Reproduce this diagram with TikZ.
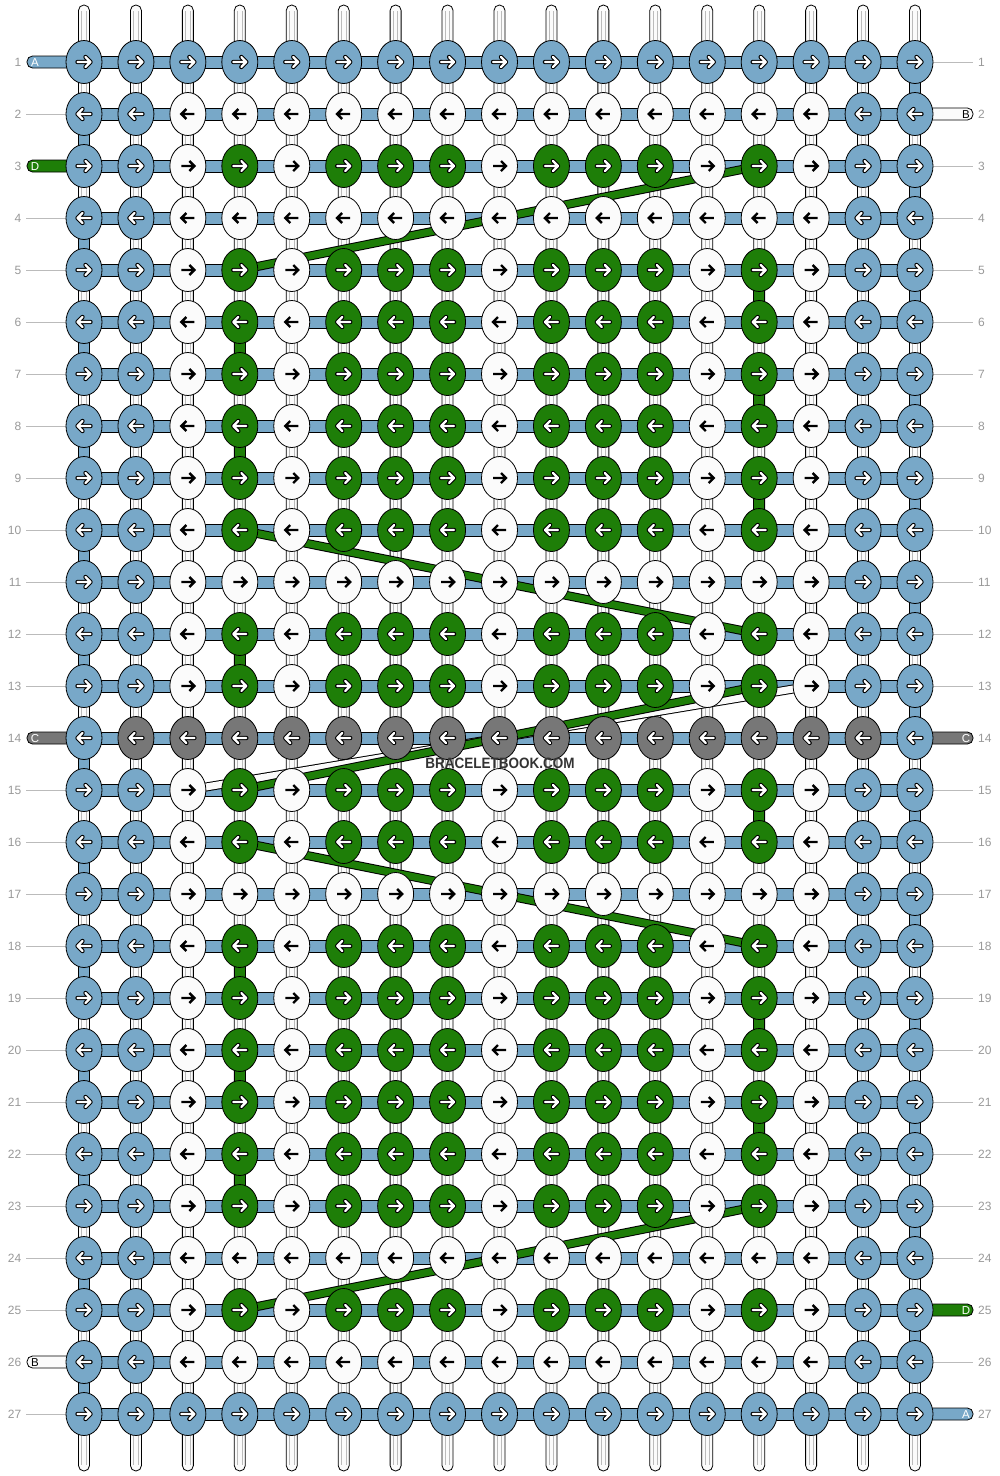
\documentclass[tikz,border=0pt]{standalone}
\usepackage{fontspec}
\setmainfont{Liberation Sans}
\usetikzlibrary{shapes.geometric,calc}
\definecolor{bb}{HTML}{78A8C8}
\definecolor{gg}{HTML}{1E7E08}
\definecolor{cg}{HTML}{777777}
\definecolor{ww}{HTML}{FBFBFB}
\definecolor{lbl}{HTML}{999999}
\definecolor{inl}{HTML}{BBBBBB}
\begin{document}
\begin{tikzpicture}[x=1pt,y=-1pt,
  knot/.style={ellipse, draw=black, line width=0.8pt, minimum width=36pt, minimum height=43pt, inner sep=0pt},
  hbar/.style={draw=black, line width=0.8pt, fill=bb},
  vseg/.style={draw=black, line width=0.8pt},
  bandout/.style={line width=9pt, black},
  num/.style={text=lbl, inner sep=0pt, font=\fontsize{12}{12}\selectfont},
  stubtxt/.style={inner sep=0pt, font=\fontsize{11.5}{11.5}\selectfont},
  lblline/.style={draw=inl, line width=0.8pt}]

\useasboundingbox (0,0) rectangle (1000,1476);
\fill[white] (0,0) rectangle (1000,1476);

% grid positions
\foreach \r in {1,...,27}{
  \foreach \c in {1,...,17}{
    \coordinate (p-\r-\c) at ({84+51.9375*(\c-1)},{62+52*(\r-1)});
  }
}

% vertical strings
\foreach \c in {1,...,17}{
  \pgfmathsetmacro\xx{84+51.9375*(\c-1)}
  \draw[fill=ww, line width=0.8pt, rounded corners=5.4pt] (\xx-5.5,5) rectangle (\xx+5.5,1471);
  \draw[inl, line width=0.7pt] (\xx-2.2,11) -- (\xx-2.2,1465) (\xx+2.2,11) -- (\xx+2.2,1465);
}

% horizontal bars
\foreach \r in {1,...,27}{
  \draw[hbar] ($(p-\r-1)+(0,-6)$) rectangle ($(p-\r-17)+(0,6)$);
}

% left stubs
\foreach \r/\f/\L/\tc in {1/bb/A/white,3/gg/D/white,14/cg/C/white,26/ww/B/black}{
  \draw[fill=\f, line width=0.8pt, rounded corners=5.5pt] ($(p-\r-1)+(-57,-6)$) rectangle ($(p-\r-1)+(0,6)$);
  \node[stubtxt, text=\tc] (ls-\r) at ($(p-\r-1)+(-49,0.5)$) {\L};
}
% right stubs
\foreach \r/\f/\L/\tc in {2/ww/B/black,14/cg/C/white,25/gg/D/white,27/bb/A/white}{
  \draw[fill=\f, line width=0.8pt, rounded corners=5.5pt] ($(p-\r-17)+(0,-6)$) rectangle ($(p-\r-17)+(58,6)$);
  \node[stubtxt, text=\tc] (rs-\r) at ($(p-\r-17)+(51,0.5)$) {\L};
}
% label lines
\foreach \r in {2,4,5,6,7,8,9,10,11,12,13,15,16,17,18,19,20,21,22,23,24,25,27}{
  \draw[lblline] ($(p-\r-1)+(-58,0)$) -- (p-\r-1);
}
\foreach \r in {1,3,4,5,6,7,8,9,10,11,12,13,15,16,17,18,19,20,21,22,23,24,26}{
  \draw[lblline] (p-\r-17) -- ($(p-\r-17)+(58,0)$);
}
% row numbers
\foreach \r in {1,...,27}{
  \node[num, anchor=east] (ln-\r) at ($(p-\r-1)+(-62.5,0.5)$) {\r};
  \node[num, anchor=west] (rn-\r) at ($(p-\r-17)+(63,0.5)$) {\r};
}

% coloured vertical segments
\foreach \c/\f/\rs in {1/bb/{2,4,...,26}, 17/bb/{1,3,...,25}, 4/gg/{6,8,12,18,20,22}, 14/gg/{5,7,9,15,19,21}}{
  \foreach \r in \rs {
    \pgfmathtruncatemacro\rn{\r+1}
    \draw[vseg, fill=\f] ($(p-\r-\c)+(-5.5,0)$) rectangle ($(p-\rn-\c)+(5.5,0)$);
  }
}

% travelling threads
\draw[bandout] (p-13-15) -- (p-15-3);
\draw[line width=7pt, ww] (p-13-15) -- (p-15-3);
\foreach \a/\b in {p-3-14/p-5-4, p-10-4/p-12-14, p-13-14/p-15-4, p-16-4/p-18-14, p-23-14/p-25-4}{
  \draw[bandout] (\a) -- (\b);
  \draw[line width=7pt, gg] (\a) -- (\b);
}

% knots
\foreach \r in {1,...,27}{
  \pgfmathtruncatemacro\rt{{0,1,2,1,2,2,2,2,2,2,1,2,2,3,2,2,1,2,2,2,2,2,2,1,2,1,0}[\r-1]}
  \pgfmathtruncatemacro\dr{mod(\r,2)==1 ? 1 : -1}
  \foreach \c in {1,...,17}{
    \ifcase\rt
      \def\kc{0}%
    \or \pgfmathtruncatemacro\kc{{0,0,1,1,1,1,1,1,1,1,1,1,1,1,1,0,0}[\c-1]}%
    \or \pgfmathtruncatemacro\kc{{0,0,1,2,1,2,2,2,1,2,2,2,1,2,1,0,0}[\c-1]}%
    \or \pgfmathtruncatemacro\kc{{0,3,3,3,3,3,3,3,3,3,3,3,3,3,3,3,0}[\c-1]}%
    \fi
    \ifcase\kc \def\fc{bb}\or\def\fc{ww}\or\def\fc{gg}\or\def\fc{cg}\fi
    \node[knot, fill=\fc] (k-\r-\c) at (p-\r-\c) {};
    \ifnum\kc=1
      \draw[black, line width=2.4pt, shift={(k-\r-\c.center)}, xscale=\dr] (-6.5,0) -- (6.5,0) (1.5,-5) -- (6.5,0) -- (1.5,5);
    \else
      \draw[black, line width=4.4pt, line cap=round, line join=round, shift={(k-\r-\c.center)}, xscale=\dr] (-6.5,0) -- (6.5,0) (1.5,-5) -- (6.5,0) -- (1.5,5);
      \draw[white, line width=2.3pt, line cap=round, line join=round, shift={(k-\r-\c.center)}, xscale=\dr] (-6.5,0) -- (6.5,0) (1.5,-5) -- (6.5,0) -- (1.5,5);
    \fi
  }
}

% watermark
\node[font=\bfseries\fontsize{15}{15}\selectfont, text=black!80, xscale=0.9, inner sep=0pt] (wm) at (500,763.5) {BRACELETBOOK.COM};
\end{tikzpicture}
\end{document}
